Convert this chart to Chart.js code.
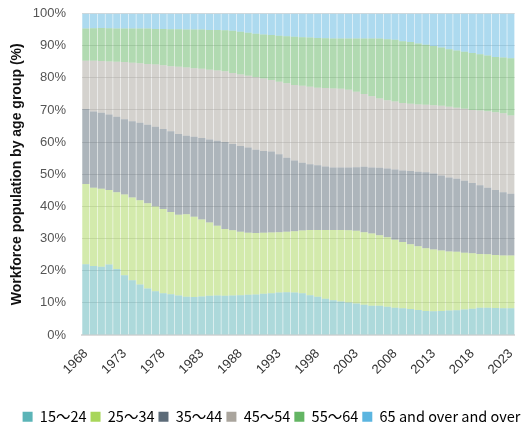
<!DOCTYPE html>
<html>
<head>
<meta charset="utf-8">
<script src="https://cdn.jsdelivr.net/npm/chart.js@4"></script>
<style>
  html, body { margin: 0; padding: 0; background: #fff; }
  #wrap { width: 525px; height: 428px; }
</style>
</head>
<body>
<div id="wrap"><canvas id="workforceChart" width="525" height="428"></canvas></div>
<script>
const years = [];
for (let y = 1968; y <= 2023; y++) years.push(String(y));

const groupNames = ["15〜24", "25〜34", "35〜44", "45〜54", "55〜64", "65 and over and over"];

const age15to24 = [22.0, 21.5, 21.2, 21.9, 20.5, 18.6, 17.0, 15.7, 14.5, 13.6, 13.0, 12.7, 12.3, 11.9, 11.8, 12.0, 12.2, 12.3, 12.2, 12.3, 12.4, 12.5, 12.6, 12.8, 13.0, 13.2, 13.3, 13.2, 13.0, 12.4, 11.9, 11.3, 10.8, 10.4, 10.1, 9.8, 9.4, 9.1, 9.1, 8.8, 8.5, 8.3, 8.1, 7.8, 7.5, 7.4, 7.5, 7.6, 7.7, 7.9, 8.2, 8.5, 8.5, 8.4, 8.3, 8.3];
const age25to34 = [25.0, 24.3, 24.3, 23.2, 23.9, 25.1, 25.8, 26.2, 26.5, 26.4, 26.2, 25.6, 25.1, 25.7, 25.0, 23.9, 22.8, 21.7, 20.8, 20.3, 19.7, 19.3, 19.1, 19.0, 18.9, 18.8, 18.8, 19.1, 19.5, 20.3, 20.8, 21.4, 21.9, 22.3, 22.5, 22.6, 22.6, 22.5, 21.9, 21.6, 21.1, 20.6, 20.1, 19.8, 19.5, 19.2, 18.8, 18.4, 18.2, 17.7, 17.2, 16.7, 16.6, 16.5, 16.4, 16.4];
const age35to44 = [23.3, 23.7, 23.6, 23.5, 23.5, 23.4, 23.7, 24.1, 24.4, 24.8, 24.9, 25.1, 25.1, 24.4, 24.9, 25.4, 25.8, 26.4, 27.0, 26.8, 26.7, 26.5, 25.9, 25.4, 25.2, 24.2, 23.0, 22.0, 21.1, 20.4, 20.1, 19.7, 19.4, 19.4, 19.5, 19.8, 20.3, 20.5, 21.0, 21.4, 21.9, 22.3, 22.8, 23.2, 23.6, 23.6, 23.3, 23.0, 22.7, 22.4, 21.9, 21.4, 20.7, 20.2, 19.7, 19.2];
const age45to54 = [15.0, 15.8, 16.1, 16.5, 17.1, 17.8, 18.2, 18.5, 18.9, 19.3, 19.8, 20.2, 20.9, 21.2, 21.3, 21.5, 21.7, 21.9, 22.0, 22.1, 22.2, 22.3, 22.6, 22.6, 22.2, 22.6, 23.2, 23.5, 23.9, 24.1, 24.1, 24.4, 24.6, 24.5, 24.2, 23.5, 22.7, 22.2, 21.6, 21.2, 21.1, 21.0, 20.9, 20.9, 21.0, 21.3, 21.7, 22.0, 22.1, 22.4, 22.7, 23.2, 23.8, 24.2, 24.6, 24.4];
const age55to64 = [10.0, 10.1, 10.3, 10.3, 10.3, 10.4, 10.6, 10.8, 11.0, 11.1, 11.3, 11.5, 11.7, 11.8, 12.0, 12.2, 12.4, 12.6, 12.8, 13.1, 13.3, 13.4, 13.5, 13.7, 14.0, 14.3, 14.6, 15.0, 15.1, 15.3, 15.5, 15.5, 15.5, 15.6, 15.9, 16.5, 17.2, 17.9, 18.6, 19.0, 19.2, 19.2, 19.2, 19.0, 18.7, 18.4, 18.1, 17.9, 17.8, 17.7, 17.7, 17.5, 17.3, 17.2, 17.3, 17.8];
const age65over = [4.7, 4.6, 4.5, 4.6, 4.7, 4.7, 4.7, 4.7, 4.7, 4.8, 4.8, 4.9, 4.9, 5.0, 5.0, 5.0, 5.1, 5.1, 5.2, 5.4, 5.7, 6.0, 6.3, 6.5, 6.7, 6.9, 7.1, 7.2, 7.4, 7.5, 7.6, 7.7, 7.8, 7.8, 7.8, 7.8, 7.8, 7.8, 7.8, 8.0, 8.2, 8.6, 8.9, 9.3, 9.7, 10.1, 10.6, 11.1, 11.5, 11.9, 12.3, 12.7, 13.1, 13.5, 13.7, 13.9];

const seriesValues = [age15to24, age25to34, age35to44, age45to54, age55to64, age65over];

// solid colours for the legend, faded ones for the bars
const solidColors = ["#5bb4b7", "#a8d65a", "#5c6b78", "#aaa59d", "#63b563", "#5bb5e0"];
const fadedColors = ["rgba(91,180,183,0.5)", "rgba(168,214,90,0.5)", "rgba(92,107,120,0.5)", "rgba(170,165,157,0.5)", "rgba(99,181,99,0.5)", "rgba(91,181,224,0.5)"];

const datasets = groupNames.map(function (name, i) {
    return {
        label: name,
        data: seriesValues[i],
        backgroundColor: fadedColors[i],
        borderWidth: 0,
        barPercentage: 1.0,
        categoryPercentage: 0.93
    };
});

// move the legend a bit down and to the right, like the original
const legendShift = {
    id: 'legendShift',
    afterLayout: function (chart) {
        chart.legend.top += 6;
        chart.legend.bottom += 6;
        chart.legend.left += 11;
        chart.legend.right += 11;
    }
};

const ctx = document.getElementById('workforceChart').getContext('2d');

new Chart(ctx, {
    type: 'bar',
    data: {
        labels: years,
        datasets: datasets
    },
    plugins: [legendShift],
    options: {
        responsive: false,
        animation: false,
        layout: {
            padding: { left: 4, right: 8, top: 0, bottom: 0 }
        },
        plugins: {
            tooltip: { enabled: false },
            legend: {
                position: 'bottom',
                labels: {
                    boxWidth: 10,
                    boxHeight: 10,
                    padding: 4,
                    color: '#444',
                    font: { family: "'Noto Sans CJK JP', 'Noto Sans', sans-serif", size: 14.5 },
                    generateLabels: function (chart) {
                        return chart.data.datasets.map(function (ds, i) {
                            return {
                                text: ds.label,
                                fillStyle: solidColors[i],
                                strokeStyle: solidColors[i],
                                lineWidth: 0,
                                hidden: false,
                                datasetIndex: i
                            };
                        });
                    }
                }
            }
        },
        scales: {
            x: {
                stacked: true,
                grid: { display: false },
                border: { color: '#dcdcdc', width: 2 },
                ticks: {
                    autoSkip: false,
                    minRotation: 45,
                    maxRotation: 45,
                    color: '#333',
                    padding: 3,
                    font: { family: "'Liberation Sans', Arial, sans-serif", size: 13 },
                    callback: function (value, index) {
                        return (index % 5 === 0) ? years[index] : '';
                    }
                },
                // empty title only used as a spacer above the legend
                title: {
                    display: true,
                    text: '',
                    font: { size: 10, lineHeight: 1 },
                    padding: { top: 9, bottom: 0 }
                }
            },
            y: {
                stacked: true,
                min: 0,
                max: 100,
                grid: { color: 'rgba(0,0,0,0.14)', drawTicks: false },
                border: { display: false },
                afterFit: function (scale) {
                    scale.width = 78;
                    scale.paddingTop = 13.5;
                    scale.paddingBottom = 0;
                },
                ticks: {
                    stepSize: 10,
                    padding: 16,
                    color: '#555',
                    font: { family: "'Liberation Sans', Arial, sans-serif", size: 13 },
                    callback: function (value) { return value + '%'; }
                },
                title: {
                    display: true,
                    text: 'Workforce population by age group (%)',
                    color: '#111',
                    font: { family: "'Liberation Sans', Arial, sans-serif", size: 14, weight: 'bold' },
                    padding: { top: 4.5, bottom: 0 }
                }
            }
        }
    }
});
</script>
</body>
</html>
